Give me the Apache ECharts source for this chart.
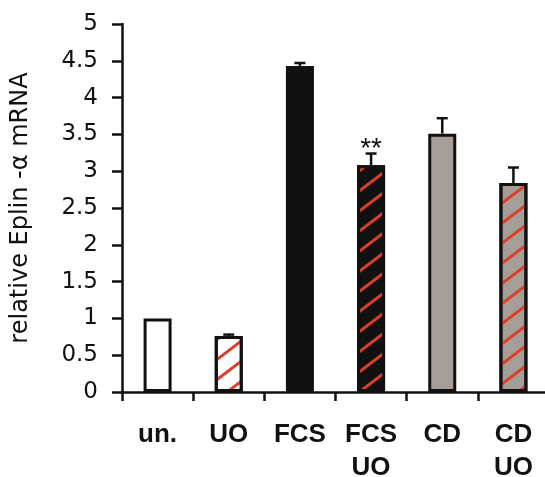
<!DOCTYPE html>
<html>
<head>
<meta charset="utf-8">
<script src="https://cdn.jsdelivr.net/npm/echarts@6/dist/echarts.min.js"></script>
<style>
html,body{margin:0;padding:0;background:#fff;}
#main{width:545px;height:477px;}
</style>
</head>
<body>
<div id="main"></div>
<script>
const categories = ['un.', 'UO', 'FCS', 'FCS\nUO', 'CD', 'CD\nUO'];
const values = [1.0, 0.76, 4.43, 3.08, 3.51, 2.84];
const errors = [0, 0.02, 0.04, 0.16, 0.21, 0.21];
const fills = ['#ffffff', '#ffffff', '#111111', '#111111', '#a59e98', '#a59e98'];
const hatched = [false, true, false, true, false, true];
const marks = ['', '', '', '**', '', ''];
const yTicks = [0, 0.5, 1, 1.5, 2, 2.5, 3, 3.5, 4, 4.5, 5];

const chart = echarts.init(document.getElementById('main'), null, {renderer: 'canvas'});

const barData = values.map((v, i) => ({
  value: v,
  itemStyle: Object.assign({
    color: fills[i],
    borderColor: '#111111',
    borderWidth: 3
  }, hatched[i] ? {
    decal: {
      symbol: 'rect',
      symbolSize: 1,
      dashArrayX: [1, 0],
      dashArrayY: [2.2, 13],
      rotation: -0.65,
      color: '#d9402a',
      backgroundColor: null
    }
  } : {})
}));

chart.setOption({
  backgroundColor: '#ffffff',
  animation: false,
  grid: {left: 122, right: -4, top: 24, bottom: 85, containLabel: false, outerBoundsMode: 'none'},
  xAxis: {
    type: 'category',
    data: categories,
    axisLine: {lineStyle: {color: '#111', width: 2.5}},
    axisTick: {show: true, length: 9, inside: false, lineStyle: {color: '#111', width: 2.5}},
    axisLabel: {
      color: '#111', fontFamily: 'Liberation Sans, Arial', fontWeight: 'bold',
      fontSize: 26, lineHeight: 33, margin: 26, interval: 0
    }
  },
  yAxis: {
    type: 'value',
    min: yTicks[0],
    max: yTicks[yTicks.length - 1],
    interval: 0.5,
    name: 'relative Eplin -α mRNA',
    nameLocation: 'middle',
    nameGap: 89,
    nameTextStyle: {color: '#111', fontFamily: 'DejaVu Sans', fontSize: 24},
    axisLine: {show: true, lineStyle: {color: '#111', width: 2.5}},
    axisTick: {show: true, length: 10, lineStyle: {color: '#111', width: 2.5}},
    axisLabel: {color: '#111', fontFamily: 'DejaVu Sans', fontSize: 23, margin: 24},
    splitLine: {show: false}
  },
  series: [
    {
      type: 'bar',
      barWidth: 28,
      data: barData,
      z: 2
    },
    {
      type: 'custom',
      z: 1,
      data: values.map((v, i) => [i, v, errors[i]]),
      renderItem: function (params, api) {
        const i = api.value(0);
        const v = api.value(1);
        const e = api.value(2);
        const children = [];
        const base = api.coord([i, v]);
        const top = api.coord([i, v + e]);
        if (e > 0) {
          children.push({type: 'line', shape: {x1: base[0], y1: base[1], x2: top[0], y2: top[1]}, style: {stroke: '#111', lineWidth: 2.5}});
          children.push({type: 'line', shape: {x1: top[0] - 5.5, y1: top[1], x2: top[0] + 5.5, y2: top[1]}, style: {stroke: '#111', lineWidth: 2.5}});
        }
        if (marks[i]) {
          children.push({type: 'text', style: {text: marks[i], x: top[0], y: top[1] - 4, align: 'center', verticalAlign: 'middle', fontSize: 28, fontFamily: 'Liberation Sans, Arial', fill: '#111'}});
        }
        return {type: 'group', children: children};
      }
    }
  ]
});
</script>
</body>
</html>
